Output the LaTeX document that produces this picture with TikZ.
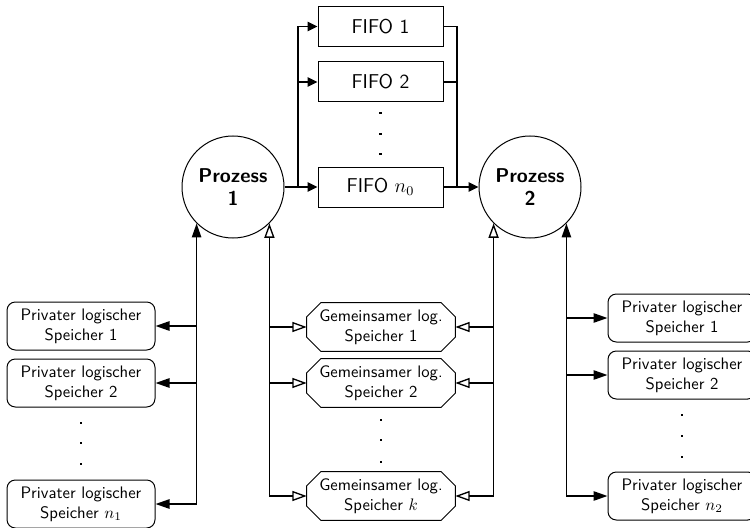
\documentclass[tikz,border=0pt]{standalone}
\usetikzlibrary{arrows.meta,calc}
\renewcommand{\familydefault}{\sfdefault}
\newlength\pxu
\setlength\pxu{0.6pt}
\tikzset{
  conn/.style={line width=1pt},
  fillarrow/.style={conn,-{Triangle[length=8.4pt,width=5.6pt]}},
  fifoarrow/.style={conn,-{Triangle[length=6pt,width=5.6pt]}},
  openarrow/.style={conn,-{Triangle[open,length=8.6pt,width=6pt,line width=0.8pt]}},
  proc/.style={circle,draw,line width=0.6pt,minimum size={102*\pxu},inner sep=0pt,
    align=center,font=\large\bfseries},
  fifo/.style={rectangle,draw,line width=0.6pt,minimum width={125*\pxu},
    minimum height={40*\pxu},inner sep=0pt,font=\large},
  privmem/.style={rectangle,rounded corners=5pt,draw,line width=0.6pt,
    minimum width={148*\pxu},minimum height={48*\pxu},inner sep=0pt,align=center},
  % shared memory: the outline with cut corners is drawn separately
  sharedmem/.style={rectangle,minimum width={148*\pxu},minimum height={48*\pxu},
    inner sep=0pt,align=center},
  outline/.style={line width=0.6pt},
  vdot/.style={rectangle,fill,inner sep=0pt,minimum size=1.7pt}
}
\def\chamf{8.5pt}
\begin{document}
\begin{tikzpicture}[x=\pxu,y=-\pxu]
\useasboundingbox (0,0) rectangle (750,527);

% processes
\node[proc] (P1) at (233,187) {Prozess\\1};
\node[proc] (P2) at (530,187) {Prozess\\2};

% FIFO queues between the processes
\node[fifo] (F1) at (380.5,26.5) {FIFO 1};
\node[fifo] (F2) at (380.5,82) {FIFO 2};
\node[fifo] (Fn) at (380.5,187) {FIFO $n_0$};
\foreach \y/\n in {113/a,134/b,154/c} \node[vdot] (fd\n) at (380.5,\y) {};

\coordinate (bl) at (298,187);
\coordinate (br) at (457,187);
\draw[conn] (P1.east) -- (bl);
\foreach \f in {F1,F2,Fn} \draw[fifoarrow] (bl) |- (\f.west);
\foreach \f in {F1,F2} \draw[conn] (\f.east) -| (br);
\draw[conn] (Fn.east) -- (br);
\draw[fifoarrow] (br) -- (P2.west);

% private memory of process 1
\node[privmem] (L1) at (81,326) {Privater logischer\\Speicher 1};
\node[privmem] (L2) at (81,383) {Privater logischer\\Speicher 2};
\node[privmem] (Ln) at (81,504) {Privater logischer\\Speicher $n_1$};
\foreach \y/\n in {423/a,443/b,464/c} \node[vdot] (ld\n) at (81,\y) {};

% shared memory
\node[sharedmem] (S1) at (381,327) {Gemeinsamer log.\\Speicher 1};
\node[sharedmem] (S2) at (381,383) {Gemeinsamer log.\\Speicher 2};
\node[sharedmem] (Sk) at (381,496) {Gemeinsamer log.\\Speicher $k$};
\foreach \y/\n in {420/a,440/b,462/c} \node[vdot] (sd\n) at (381,\y) {};
\foreach \s in {S1,S2,Sk}
  \draw[outline]
    ([xshift=\chamf]\s.north west) -- ([xshift=-\chamf]\s.north east)
    -- ([yshift=-\chamf]\s.north east) -- ([yshift=\chamf]\s.south east)
    -- ([xshift=-\chamf]\s.south east) -- ([xshift=\chamf]\s.south west)
    -- ([yshift=\chamf]\s.south west) -- ([yshift=-\chamf]\s.north west)
    -- cycle;

% private memory of process 2
\node[privmem] (R1) at (682,318) {Privater logischer\\Speicher 1};
\node[privmem] (R2) at (682,375) {Privater logischer\\Speicher 2};
\node[privmem] (Rn) at (682,496) {Privater logischer\\Speicher $n_2$};
\foreach \y/\n in {415/a,436/b,457/c} \node[vdot] (rd\n) at (682,\y) {};

% buses of process 1
\draw[fillarrow] (P1.-135 |- Ln.east) -- (P1.-135);
\foreach \m in {L1,L2,Ln} \draw[fillarrow] (P1.-135 |- \m.east) -- (\m.east);
\draw[openarrow] (P1.-45 |- Sk.west) -- (P1.-45);
\foreach \m in {S1,S2,Sk} \draw[openarrow] (P1.-45 |- \m.west) -- (\m.west);

% buses of process 2
\draw[openarrow] (P2.-135 |- Sk.east) -- (P2.-135);
\foreach \m in {S1,S2,Sk} \draw[openarrow] (P2.-135 |- \m.east) -- (\m.east);
\draw[fillarrow] (P2.-45 |- Rn.west) -- (P2.-45);
\foreach \m in {R1,R2,Rn} \draw[fillarrow] (P2.-45 |- \m.west) -- (\m.west);
\end{tikzpicture}
\end{document}
